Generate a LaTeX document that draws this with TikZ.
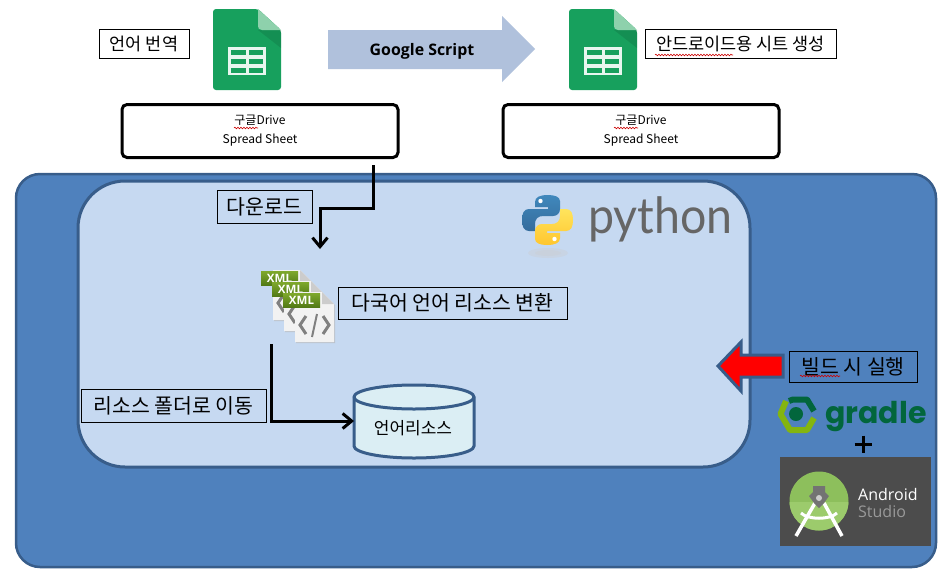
\documentclass[tikz,border=0pt]{standalone}
\usepackage{fontspec}
\setmainfont{Noto Sans CJK KR}
\newfontfamily\latinbold{Open Sans}
\newfontfamily\pyfont{Lato}
\newfontfamily\grfont{Poppins}
\newfontfamily\anfont{Open Sans}
\usetikzlibrary{arrows.meta,decorations.pathmorphing}
\definecolor{outerfill}{HTML}{4F81BD}
\definecolor{edgeblue}{HTML}{385D8A}
\definecolor{innerfill}{HTML}{C6D9F1}
\definecolor{cylfill}{HTML}{DBEEF4}
\definecolor{sheetgreen}{HTML}{17A05D}
\definecolor{sheetfold}{HTML}{8ED1AC}
\definecolor{xmltop}{HTML}{7FA92C}
\definecolor{xmlbot}{HTML}{527A16}
\definecolor{gradledark}{HTML}{02663C}
\definecolor{gradlelight}{HTML}{84B510}
\definecolor{arrowfillc}{HTML}{B0C1DC}
\definecolor{pybluetop}{HTML}{4088BC}
\definecolor{pybluebot}{HTML}{356C9C}
\definecolor{pyyelltop}{HTML}{FFE45C}
\definecolor{pyyellbot}{HTML}{FFC62F}
\definecolor{andgreen}{HTML}{8DBF5C}
\definecolor{andlight}{HTML}{9CCB6C}
\tikzset{
  labelbox/.style={draw=black,line width=1pt,inner sep=0pt,minimum height=#1,text=black},
  labelbox/.default=30pt,
  bigtext/.style={font=\fontsize{20.5}{20.5}\selectfont},
  smalltext/.style={font=\fontsize{17.5}{17.5}\selectfont},
  drivebox/.style={draw=black,line width=3pt,rounded corners=5pt,minimum width=276pt,minimum height=53pt,align=center,font=\fontsize{12}{19}\selectfont,inner sep=0pt},
  flow/.style={draw=black,line width=3pt,-{Straight Barb[length=9pt,width=15pt,line width=3pt]}},
  squiggle/.style={draw=red!80!black,line width=.6pt,decorate,decoration={snake,amplitude=.8pt,segment length=3pt}},
}
\newcommand{\pysnake}{(548,195) .. controls (540,195) and (535,197) .. (535,202) -- (535,207) -- (548,207) -- (548,209) -- (529,209) .. controls (524,209) and (522,213) .. (522,220) .. controls (522,227) and (524,231) .. (529,231) -- (535,231) -- (535,224) .. controls (535,219) and (538,216) .. (543,216) -- (553,216) .. controls (557,216) and (560,213) .. (560,209) -- (560,201) .. controls (560,197) and (555,195) .. (548,195) -- cycle}
\newcommand{\sheeticon}[1]{%
 \begin{scope}[shift={(#1,0)}]
  \fill[sheetgreen,rounded corners=3pt] (213,9) -- (258,9) -- (281,30) -- (281,90) -- (213,90) -- cycle;
  \fill[black,opacity=.1] (258,30) -- (281,30) -- (281,48) -- cycle;
  \fill[sheetfold] (258,9) -- (281,30) -- (262,30) .. controls (259,30) and (258,28) .. (258,26) -- cycle;
  \fill[white!90!sheetgreen] (228,47) rectangle (266,75);
  \foreach \yy in {50,59,68}{
    \fill[sheetgreen] (231,\yy) rectangle (245.5,\yy+5);
    \fill[sheetgreen] (248.5,\yy) rectangle (263,\yy+5);
  }
 \end{scope}}
\newcommand{\xmlicon}[2]{%
 \begin{scope}[shift={(#1,#2)}]
  \fill[black!30,opacity=.6] (1,1) -- (28,1) -- (40,13) -- (40,51) -- (1,51) -- cycle;
  \fill[white!95!black] (0,0) -- (27,0) -- (39,12) -- (39,50) -- (0,50) -- cycle;
  \fill[black!20] (27,0) -- (39,12) -- (27,12) -- cycle;
  \shade[top color=xmltop,bottom color=xmlbot] (-12,1) rectangle (25,15);
  \node[text=white,font=\latinbold\bfseries\fontsize{11.5}{11.5}\selectfont,inner sep=0pt] at (6.5,8) {XML};
  \draw[black!50,line width=3pt] (11,24) -- (5,33) -- (11,42) (28,24) -- (34,33) -- (28,42);
  \draw[black!50,line width=2pt] (22,22) -- (17,45);
 \end{scope}}
\begin{document}
\begin{tikzpicture}[x=1pt,y=-1pt]
\useasboundingbox (0,0) rectangle (946,574);
\fill[white] (0,0) rectangle (946,574);
% panels
\draw[fill=outerfill,draw=edgeblue,line width=2.5pt,rounded corners=24pt] (16,174) rectangle (936,567);
\draw[fill=innerfill,draw=edgeblue,line width=3pt,rounded corners=47pt] (78,181) rectangle (750,467);
% top row
\sheeticon{0}
\sheeticon{356}
\node[labelbox=29pt,minimum width=90pt,smalltext] (lang) at (144,43.5) {언어 번역};
\node[labelbox=29pt,minimum width=191pt,smalltext] (andsheet) at (740.5,43.5) {안드로이드용 시트 생성};
\fill[arrowfillc] (328,30) -- (502,30) -- (502,16) -- (535,49) -- (502,82) -- (502,69) -- (328,69) -- cycle;
\node[font=\latinbold\bfseries\fontsize{15.9}{15.9}\selectfont,text=black,inner sep=0pt] (gs) at (422,51) {Google Script};
\node[drivebox] (drive1) at (260,131) {구글Drive\\Spread Sheet};
\node[drivebox] (drive2) at (641,131) {구글Drive\\Spread Sheet};
\draw[squiggle] (234,128) -- (258,128);
\draw[squiggle] (614,128) -- (638,128);
\draw[squiggle] (655,55) -- (733,55);
% python logo
\fill[black!20,opacity=.35] (548,253) ellipse (20pt and 5pt);
\fill[black!20,opacity=.3] (548,253) ellipse (13pt and 3pt);
\shade[top color=pybluetop,bottom color=pybluebot] \pysnake;
\fill[white] (540.5,201) circle (2.2pt);
\begin{scope}[shift={(1095,440)},x=-1pt,y=1pt]
  \shade[top color=pyyelltop,bottom color=pyyellbot] \pysnake;
  \fill[white] (540.5,201) circle (2.2pt);
\end{scope}
\node[font=\pyfont\fontsize{50}{50}\selectfont,text=black!60,inner sep=0pt,anchor=base west] (pytext) at (588,233) {\scalebox{.93}[1]{python}};
% middle
\node[labelbox=33pt,minimum width=95pt,bigtext] (dl) at (264.5,206.5) {다운로드};
\coordinate (dlstart) at (373,165);
\coordinate (dlend) at (320,249);
\draw[flow] (dlstart) -- (373,208) -- (320,208) -- (dlend);
\xmlicon{273}{270}
\xmlicon{284}{281}
\xmlicon{295}{292}
\node[labelbox=32pt,minimum width=229pt,bigtext] (conv) at (452.5,303) {다국어 언어 리소스 변환};
\node[labelbox=33pt,minimum width=185pt,bigtext] (move) at (173.5,405.5) {리소스 폴더로 이동};
% cylinder
\draw[fill=cylfill,draw=edgeblue,line width=3pt] (354,397) -- (354,446) arc[start angle=180,end angle=360,x radius=60pt,y radius=12pt] -- (474,397) arc[start angle=0,end angle=180,x radius=60pt,y radius=12pt] -- cycle;
\draw[draw=edgeblue,line width=3pt] (354,397) arc[start angle=180,end angle=360,x radius=60pt,y radius=12pt];
\node[font=\fontsize{17}{17}\selectfont,inner sep=0pt] (res) at (413,428) {언어리소스};
\coordinate (mvstart) at (271,344);
\coordinate (mvend) at (354,421);
\draw[flow] (mvstart) -- (271,421) -- (mvend);
% build
\draw[fill=red,draw=edgeblue,line width=3pt] (718,366) -- (741,342) -- (741,355) -- (783,355) -- (783,377) -- (741,377) -- (741,391) -- cycle;
\node[labelbox=31pt,minimum width=128pt,bigtext] (build) at (853,366.5) {빌드 시 실행};
\draw[squiggle] (800,376) -- (840,376);
% gradle
\draw[gradlelight,line width=6pt,line join=round] (786,401) -- (780.5,414) -- (790,430) -- (807,430) -- (814,418);
\draw[gradledark,line width=6pt,line join=round] (789,401) -- (793,399.5) -- (807,399.5) -- (814,411);
\fill[gradledark] (796,414) circle (7pt);
\node[font=\grfont\bfseries\fontsize{30}{30}\selectfont,text=gradledark,inner sep=0pt,anchor=base west] (gr) at (825,423) {gradle};
\draw[black,line width=3pt] (854.5,444) -- (872,444) (863,435.5) -- (863,452.5);
% android studio
\fill[black!70] (780,457) rectangle (931,546);
\fill[andgreen] (819,501) circle (29.5pt);
\begin{scope}
  \clip (780,502) rectangle (860,535);
  \fill[andlight] (819,501) circle (29.5pt);
\end{scope}
\draw[white,line width=3.5pt] (815,503) -- (796,536) (824,503) -- (842,536);
\draw[white,line width=3pt] (801,513) .. controls (808,520) and (830,520) .. (837,513);
\fill[black!55] (813,486) -- (825,486) -- (825,492) -- (829,496) -- (824,503) -- (819,508) -- (814,503) -- (809,496) -- (813,492) -- cycle;
\fill[white!80!black] (819,498) circle (3pt);
\node[font=\anfont\fontsize{16}{16}\selectfont,text=white,inner sep=0pt,anchor=base west] (and) at (858,500) {Android};
\node[font=\anfont\fontsize{16}{16}\selectfont,text=black!40,inner sep=0pt,anchor=base west] (std) at (858,517) {Studio};
\end{tikzpicture}
\end{document}
